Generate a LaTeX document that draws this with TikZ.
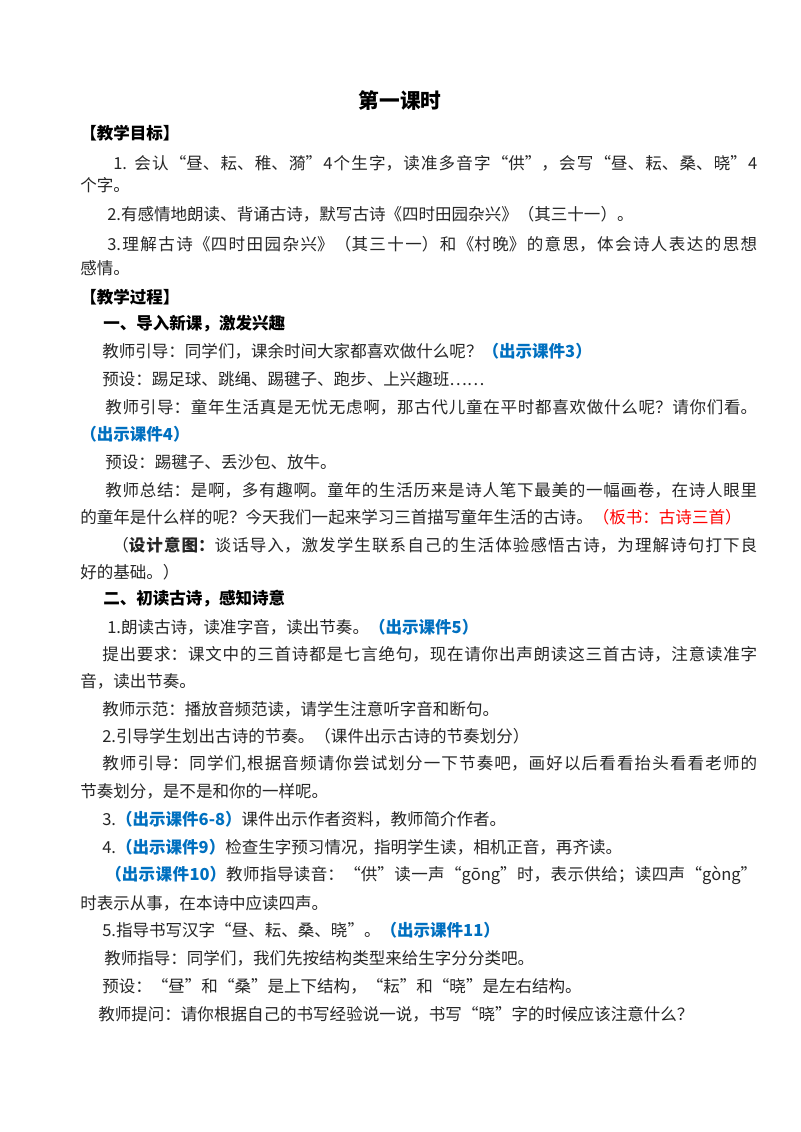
\documentclass[tikz,border=0pt]{standalone}
\usepackage{fontspec}
\setmainfont{Noto Sans CJK SC}
\XeTeXlinebreaklocale "zh"
\XeTeXlinebreakskip=0pt plus 2pt
\definecolor{kjblue}{HTML}{0070C0}
\definecolor{bsred}{HTML}{FF0000}
\newcommand{\kj}[1]{\textcolor{kjblue}{\textbf{#1}}}
\newcommand{\bs}[1]{\textcolor{bsred}{#1}}

\begin{document}
\begin{tikzpicture}[x=0.75pt, y=-0.75pt,
  every node/.style={inner sep=0pt, anchor=west, text=black!85, font=\fontsize{12.4}{16}\selectfont},
  full/.style={text width=#1, align=justify, execute at begin node={\parfillskip=0pt}},
  head/.style={font=\fontsize{12.4}{16}\selectfont\bfseries, text=black}]
\useasboundingbox[fill=white] (0,0) rectangle (800,1132);

\node[anchor=center, text=black, font=\fontsize{15.5}{18}\selectfont\bfseries] (title) at (400,101) {第一课时};

% 教学目标
\node[head] (mubiao) at (80,133) {【教学目标】};
\node[full=483pt] (a1) at (113,163) {1. 会认“昼、耘、稚、漪”4个生字，读准多音字“供”，会写“昼、耘、桑、晓”4};
\node (a1b) at (80,185) {个字。};
\node (a2) at (107,214) {2.有感情地朗读、背诵古诗，默写古诗《四时田园杂兴》（其三十一）。};
\node[full=487.5pt] (a3) at (107,244) {3.理解古诗《四时田园杂兴》（其三十一）和《村晚》的意思，体会诗人表达的思想};
\node (a3b) at (80,268) {感情。};

% 教学过程
\node[head] (guocheng) at (80,297) {【教学过程】};
\node[head] (s1) at (103,324) {一、导入新课，激发兴趣};
\node (b1) at (102,351) {教师引导：同学们，课余时间大家都喜欢做什么呢？\kj{（出示课件3）}};
\node (b2) at (102,379) {预设：踢足球、跳绳、踢毽子、跑步、上兴趣班……};
\node[full=489pt] (b3) at (105,407) {教师引导：童年生活真是无忧无虑啊，那古代儿童在平时都喜欢做什么呢？请你们看。};
\node (b3b) at (80,434) {\kj{（出示课件4）}};
\node (b4) at (105,462) {预设：踢毽子、丢沙包、放牛。};
\node[full=489pt] (b5) at (105,490) {教师总结：是啊，多有趣啊。童年的生活历来是诗人笔下最美的一幅画卷，在诗人眼里};
\node (b5b) at (80,517) {的童年是什么样的呢？今天我们一起来学习三首描写童年生活的古诗。\bs{（板书：古诗三首）}};
\node[full=483.75pt] (b6) at (112,545) {（\textbf{设计意图：}谈话导入，激发学生联系自己的生活体验感悟古诗，为理解诗句打下良};
\node (b6b) at (80,572) {好的基础。）};

\node[head] (s2) at (103,599) {二、初读古诗，感知诗意};
\node (c1) at (107,627) {1.朗读古诗，读准字音，读出节奏。\kj{（出示课件5）}};
\node[full=491.25pt] (c2) at (102,654) {提出要求：课文中的三首诗都是七言绝句，现在请你出声朗读这三首古诗，注意读准字};
\node (c2b) at (80,681) {音，读出节奏。};
\node (c3) at (102,709) {教师示范：播放音频范读，请学生注意听字音和断句。};
\node (c4) at (102,736) {2.引导学生划出古诗的节奏。（课件出示古诗的节奏划分）};
\node[full=491.25pt] (c5) at (102,764) {教师引导：同学们,根据音频请你尝试划分一下节奏吧，画好以后看看抬头看看老师的};
\node (c5b) at (80,791) {节奏划分，是不是和你的一样呢。};
\node (c6) at (102,819) {3.\kj{（出示课件6-8）}课件出示作者资料，教师简介作者。};
\node (c7) at (102,847) {4.\kj{（出示课件9）}检查生字预习情况，指明学生读，相机正音，再齐读。};
\node[full=489pt] (c8) at (105,875) {\kj{（出示课件10）}教师指导读音：“供”读一声“gōng”时，表示供给；读四声“gòng”};
\node (c8b) at (80,903) {时表示从事，在本诗中应读四声。};
\node (c9) at (102,930) {5.指导书写汉字“昼、耘、桑、晓”。\kj{（出示课件11）}};
\node (c10) at (104,958) {教师指导：同学们，我们先按结构类型来给生字分分类吧。};
\node (c11) at (102,986) {预设：“昼”和“桑”是上下结构，“耘”和“晓”是左右结构。};
\node (c12) at (98,1014) {教师提问：请你根据自己的书写经验说一说，书写“晓”字的时候应该注意什么？};
\end{tikzpicture}
\end{document}
